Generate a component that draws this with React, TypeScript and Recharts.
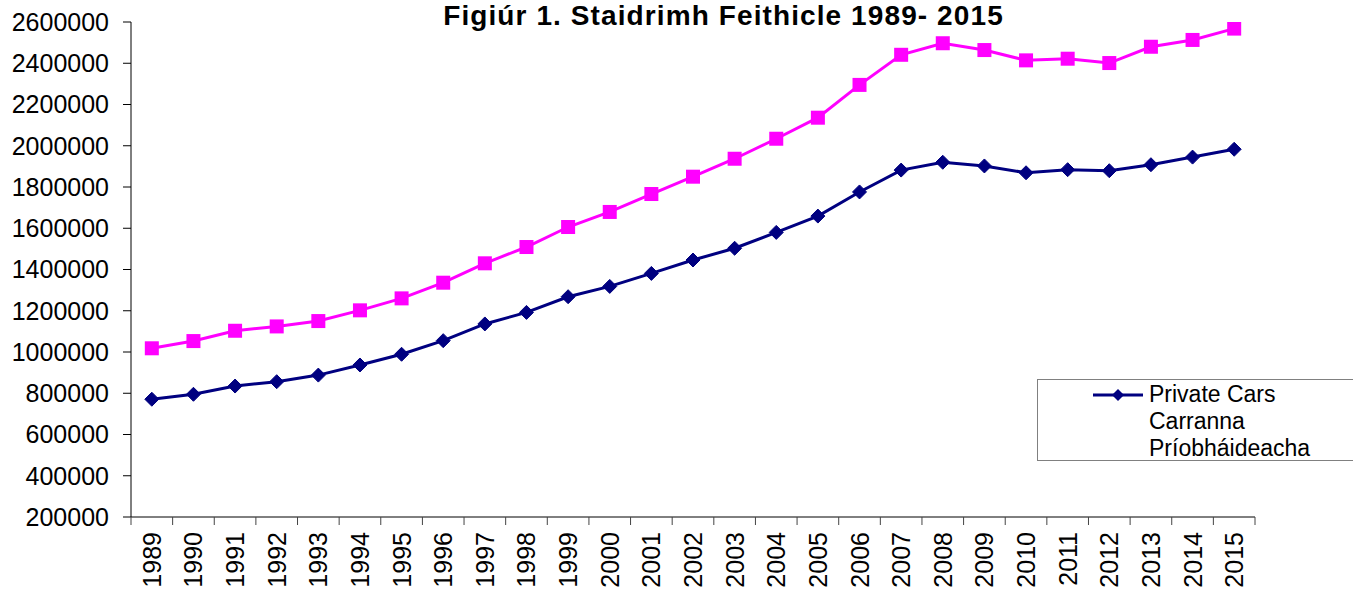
import { LineChart, Line, XAxis, YAxis, Legend, Tooltip } from "recharts";

// Figiúr 1 – vehicle stock, 1989–2015
const years = [
  "1989", "1990", "1991", "1992", "1993", "1994", "1995", "1996", "1997",
  "1998", "1999", "2000", "2001", "2002", "2003", "2004", "2005", "2006",
  "2007", "2008", "2009", "2010", "2011", "2012", "2013", "2014", "2015",
];

const privateCars = [
  771000, 795000, 835000, 856000, 888000, 937000, 989000, 1055000, 1136000,
  1192000, 1268000, 1318000, 1381000, 1446000, 1503000, 1580000, 1659000, 1776000,
  1882000, 1920000, 1902000, 1869000, 1884000, 1879000, 1908000, 1945000, 1983000,
];

const allVehicles = [
  1018000, 1053000, 1103000, 1124000, 1150000, 1202000, 1260000, 1336000, 1430000,
  1509000, 1606000, 1679000, 1766000, 1850000, 1937000, 2034000, 2136000, 2295000,
  2441000, 2497000, 2464000, 2414000, 2422000, 2401000, 2480000, 2513000, 2568000,
];

const yTicks = [
  200000, 400000, 600000, 800000, 1000000, 1200000, 1400000,
  1600000, 1800000, 2000000, 2200000, 2400000, 2600000,
];

const data = years.map((year, i) => ({
  year,
  private: privateCars[i],
  all: allVehicles[i],
}));

const FONT = "Arial, 'Liberation Sans', sans-serif";
const NAVY = "#000080";
const PINK = "#ff00ff";

const HALF_BAND = 1124 / 27 / 2;
const LABEL_GAP = 15;

// year label plus the Excel-style tick marks sitting between categories
function YearTick(props: any) {
  const { x, y, payload } = props;
  const axisY = y - LABEL_GAP;
  const isLast = payload.value === years[years.length - 1];
  return (
    <g>
      <line x1={x - HALF_BAND} y1={axisY} x2={x - HALF_BAND} y2={axisY + 8} stroke="#444" />
      {isLast && <line x1={x + HALF_BAND} y1={axisY} x2={x + HALF_BAND} y2={axisY + 8} stroke="#444" />}
      <text
        x={x}
        y={y}
        transform={`rotate(-90, ${x}, ${y})`}
        textAnchor="end"
        dy="0.36em"
        fontSize={25}
        fontFamily={FONT}
        fill="#000"
      >
        {payload.value}
      </text>
    </g>
  );
}

function Diamond(props: any) {
  const { cx, cy, index } = props;
  if (cx == null || cy == null) return null;
  const r = 7;
  return (
    <polygon
      key={`d-${index}`}
      points={`${cx},${cy - r} ${cx + r},${cy} ${cx},${cy + r} ${cx - r},${cy}`}
      fill={NAVY}
      stroke={NAVY}
    />
  );
}

function Square(props: any) {
  const { cx, cy, index } = props;
  if (cx == null || cy == null) return null;
  return <rect key={`s-${index}`} x={cx - 7} y={cy - 7} width={14} height={14} fill={PINK} />;
}

function LegendBox(props: any) {
  const items = (props.payload || []).filter((p: any) => p.dataKey === "private");
  return (
    <div
      style={{
        boxSizing: "border-box",
        width: 340,
        height: 82,
        border: "1px solid #808080",
        background: "#fff",
        fontFamily: FONT,
      }}
    >
      {items.map((item: any) => (
        <div key={item.value} style={{ display: "flex", alignItems: "flex-start", paddingLeft: 55, paddingTop: 1 }}>
          <svg width={50} height={28} style={{ flex: "none", marginRight: 6 }}>
            <line x1={0} y1={14} x2={50} y2={14} stroke={NAVY} strokeWidth={3} />
            <polygon points="25,8 31,14 25,20 19,14" fill={NAVY} />
          </svg>
          <span style={{ width: 175, fontSize: 23, lineHeight: "27px", color: "#000" }}>{item.value}</span>
        </div>
      ))}
    </div>
  );
}

export default function App() {
  return (
    <div
      style={{
        position: "absolute",
        left: 0,
        top: 0,
        width: 1353,
        height: 592,
        overflow: "hidden",
        background: "#fff",
      }}
    >
      <LineChart
        width={1353}
        height={592}
        data={data}
        margin={{ top: 22, right: 98, bottom: 0, left: 0 }}
      >
        <XAxis
          dataKey="year"
          interval={0}
          padding={{ left: HALF_BAND, right: HALF_BAND }}
          axisLine={{ stroke: "#000" }}
          tickLine={false}
          tickSize={0}
          tickMargin={LABEL_GAP}
          tick={<YearTick />}
          height={75}
        />
        <YAxis
          width={131}
          domain={[200000, 2600000]}
          ticks={yTicks}
          interval={0}
          allowDataOverflow
          tickSize={8}
          tickMargin={14}
          tick={{ fontSize: 25, fill: "#000", fontFamily: FONT }}
          tickLine={{ stroke: "#000" }}
          axisLine={{ stroke: "#000" }}
        />
        <Tooltip />
        <Legend
          layout="vertical"
          align="center"
          verticalAlign="middle"
          wrapperStyle={{ left: 1037, top: 379, width: 340 }}
          content={<LegendBox />}
        />
        <Line
          type="linear"
          dataKey="private"
          name="Private Cars Carranna Príobháideacha"
          stroke={NAVY}
          strokeWidth={3}
          dot={<Diamond />}
          activeDot={false}
          isAnimationActive={false}
        />
        <Line
          type="linear"
          dataKey="all"
          name="Gach Feithicil"
          stroke={PINK}
          strokeWidth={3}
          dot={<Square />}
          activeDot={false}
          isAnimationActive={false}
        />
      </LineChart>
      <div
        style={{
          position: "absolute",
          left: 0,
          top: 0,
          width: 1447,
          textAlign: "center",
          fontFamily: FONT,
          fontWeight: "bold",
          fontSize: 28,
          lineHeight: "32px",
          letterSpacing: 1.1,
          color: "#000",
          pointerEvents: "none",
        }}
      >
        Figiúr 1. Staidrimh Feithicle 1989- 2015
      </div>
    </div>
  );
}
